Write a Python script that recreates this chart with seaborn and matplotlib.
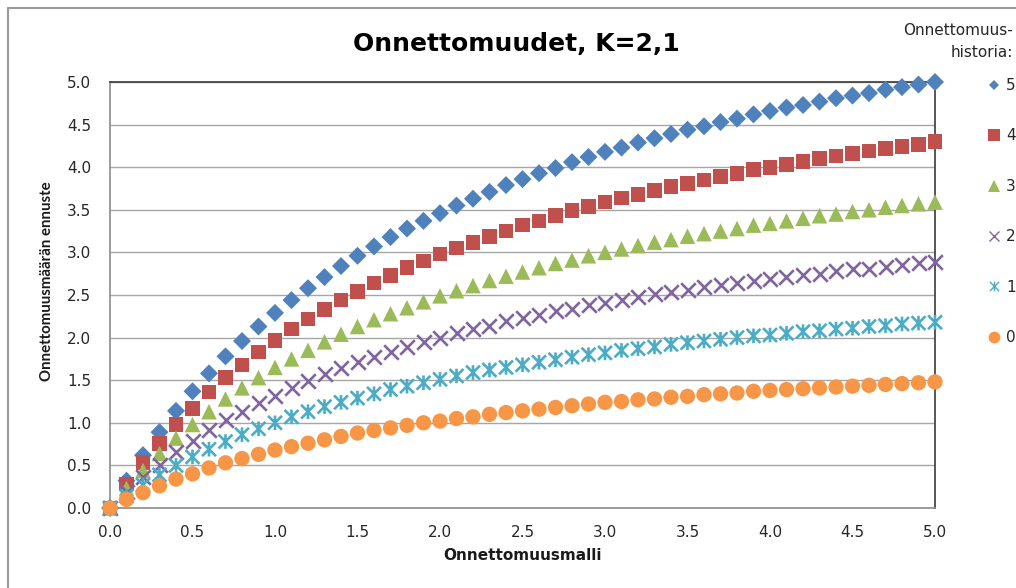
import matplotlib
matplotlib.use("Agg")
import matplotlib.pyplot as plt
from matplotlib.lines import Line2D
from matplotlib.path import Path
import seaborn as sns
import pandas as pd

# Model prediction on the x axis (Onnettomuusmalli)
model = [0.0, 0.1, 0.2, 0.3, 0.4, 0.5, 0.6, 0.7, 0.8, 0.9,
         1.0, 1.1, 1.2, 1.3, 1.4, 1.5, 1.6, 1.7, 1.8, 1.9,
         2.0, 2.1, 2.2, 2.3, 2.4, 2.5, 2.6, 2.7, 2.8, 2.9,
         3.0, 3.1, 3.2, 3.3, 3.4, 3.5, 3.6, 3.7, 3.8, 3.9,
         4.0, 4.1, 4.2, 4.3, 4.4, 4.5, 4.6, 4.7, 4.8, 4.9, 5.0]

# Forecast for each accident history (0 ... 5 accidents)
hist_5 = [0.00, 0.32, 0.62, 0.89, 1.14, 1.37, 1.58, 1.78, 1.96, 2.13,
          2.29, 2.44, 2.58, 2.71, 2.84, 2.96, 3.07, 3.18, 3.28, 3.37,
          3.46, 3.55, 3.63, 3.71, 3.79, 3.86, 3.93, 3.99, 4.06, 4.12,
          4.18, 4.23, 4.29, 4.34, 4.39, 4.44, 4.48, 4.53, 4.57, 4.62,
          4.66, 4.70, 4.73, 4.77, 4.81, 4.84, 4.87, 4.91, 4.94, 4.97, 5.00]
hist_4 = [0.00, 0.28, 0.53, 0.76, 0.98, 1.17, 1.36, 1.53, 1.68, 1.83,
          1.97, 2.10, 2.22, 2.33, 2.44, 2.54, 2.64, 2.73, 2.82, 2.90,
          2.98, 3.05, 3.12, 3.19, 3.25, 3.32, 3.37, 3.43, 3.49, 3.54,
          3.59, 3.64, 3.68, 3.73, 3.77, 3.81, 3.85, 3.89, 3.93, 3.97,
          4.00, 4.03, 4.07, 4.10, 4.13, 4.16, 4.19, 4.22, 4.24, 4.27, 4.30]
hist_3 = [0.00, 0.23, 0.44, 0.64, 0.82, 0.98, 1.13, 1.28, 1.41, 1.53,
          1.65, 1.75, 1.85, 1.95, 2.04, 2.13, 2.21, 2.28, 2.35, 2.42,
          2.49, 2.55, 2.61, 2.67, 2.72, 2.77, 2.82, 2.87, 2.91, 2.96,
          3.00, 3.04, 3.08, 3.12, 3.15, 3.19, 3.22, 3.25, 3.28, 3.32,
          3.34, 3.37, 3.40, 3.43, 3.45, 3.48, 3.50, 3.53, 3.55, 3.57, 3.59]
hist_2 = [0.00, 0.19, 0.36, 0.51, 0.66, 0.79, 0.91, 1.03, 1.13, 1.23,
          1.32, 1.41, 1.49, 1.57, 1.64, 1.71, 1.77, 1.83, 1.89, 1.95,
          2.00, 2.05, 2.10, 2.14, 2.19, 2.23, 2.27, 2.31, 2.34, 2.38,
          2.41, 2.44, 2.48, 2.51, 2.53, 2.56, 2.59, 2.62, 2.64, 2.67,
          2.69, 2.71, 2.73, 2.75, 2.78, 2.80, 2.81, 2.83, 2.85, 2.87, 2.89]
hist_1 = [0.00, 0.14, 0.27, 0.39, 0.50, 0.60, 0.69, 0.78, 0.86, 0.93,
          1.00, 1.07, 1.13, 1.19, 1.24, 1.29, 1.34, 1.39, 1.43, 1.47,
          1.51, 1.55, 1.59, 1.62, 1.65, 1.68, 1.71, 1.74, 1.77, 1.80,
          1.82, 1.85, 1.87, 1.89, 1.92, 1.94, 1.96, 1.98, 2.00, 2.02,
          2.03, 2.05, 2.07, 2.08, 2.10, 2.11, 2.13, 2.14, 2.16, 2.17, 2.18]
hist_0 = [0.00, 0.10, 0.18, 0.26, 0.34, 0.40, 0.47, 0.53, 0.58, 0.63,
          0.68, 0.72, 0.76, 0.80, 0.84, 0.88, 0.91, 0.94, 0.97, 1.00,
          1.02, 1.05, 1.07, 1.10, 1.12, 1.14, 1.16, 1.18, 1.20, 1.22,
          1.24, 1.25, 1.27, 1.28, 1.30, 1.31, 1.33, 1.34, 1.35, 1.37,
          1.38, 1.39, 1.40, 1.41, 1.42, 1.43, 1.44, 1.45, 1.46, 1.47, 1.48]

series_labels = ["5", "4", "3", "2", "1", "0"]
series_values = [hist_5, hist_4, hist_3, hist_2, hist_1, hist_0]

y_ticks = [0.0, 0.5, 1.0, 1.5, 2.0, 2.5, 3.0, 3.5, 4.0, 4.5, 5.0]
x_ticks = [0.0, 0.5, 1.0, 1.5, 2.0, 2.5, 3.0, 3.5, 4.0, 4.5, 5.0]

title = "Onnettomuudet, K=2,1"
x_label = "Onnettomuusmalli"
y_label = "Onnettomuusmäärän ennuste"
legend_title = ["Onnettomuus-", "historia:"]

# Long-form table for seaborn
frames = []
for lab, vals in zip(series_labels, series_values):
    frames.append(pd.DataFrame({"malli": model, "ennuste": vals, "historia": lab}))
df = pd.concat(frames, ignore_index=True)

sns.set_theme(style="white")
plt.rcParams["font.family"] = ["DejaVu Sans"]

# Star marker: an X with a vertical bar through it
star = Path([(-1, -1), (1, 1), (-1, 1), (1, -1), (0, -1.05), (0, 1.05)],
            [Path.MOVETO, Path.LINETO, Path.MOVETO, Path.LINETO,
             Path.MOVETO, Path.LINETO])

styles = {
    "5": dict(color="#4F81BD", marker="D", s=84, kind="filled", lw=0, leg_ms=5.2),
    "4": dict(color="#C0504D", marker="s", s=112, kind="filled", lw=0, leg_ms=8.0),
    "3": dict(color="#9BBB59", marker="^", s=125, kind="filled", lw=0, leg_ms=8.5),
    "2": dict(color="#8064A2", marker="x", s=110, kind="line", lw=1.9, leg_ms=7.0),
    "1": dict(color="#4BACC6", marker=star, s=110, kind="path", lw=1.9, leg_ms=7.0),
    "0": dict(color="#F79646", marker="o", s=122, kind="filled", lw=0, leg_ms=8.5),
}

fig = plt.figure(figsize=(10.16, 5.88), dpi=100)
ax = fig.add_axes([110 / 1016, 1 - 508 / 588, (935 - 110) / 1016, (508 - 82) / 588])

for lab in series_labels:
    st = styles[lab]
    sub = df[df["historia"] == lab]
    common = dict(data=sub, x="malli", y="ennuste", ax=ax, marker=st["marker"],
                  s=st["s"], clip_on=False, zorder=3, legend=False)
    if st["kind"] == "filled":
        sns.scatterplot(color=st["color"], edgecolor="none", linewidth=0, **common)
    elif st["kind"] == "line":
        sns.scatterplot(color=st["color"], linewidth=st["lw"], **common)
    else:
        sns.scatterplot(facecolor="none", edgecolor=st["color"],
                        linewidth=st["lw"], **common)

ax.set_xlim(0, 5)
ax.set_ylim(0, 5)
ax.set_xticks(x_ticks)
ax.set_yticks(y_ticks)
ax.set_xticklabels([f"{t:.1f}" for t in x_ticks])
ax.set_yticklabels([f"{t:.1f}" for t in y_ticks])
ax.tick_params(axis="both", which="major", direction="out", length=5.5, width=1,
               color="#8c8c8c", labelsize=11, labelcolor="#262626")
ax.tick_params(axis="y", pad=8)
ax.tick_params(axis="x", pad=7)

ax.yaxis.grid(True, color="#a6a6a6", linewidth=1)
ax.xaxis.grid(False)
ax.set_axisbelow(True)

for side in ("left", "bottom"):
    ax.spines[side].set_color("#8c8c8c")
    ax.spines[side].set_linewidth(1.2)
for side in ("top", "right"):
    ax.spines[side].set_color("#3a3a3a")
    ax.spines[side].set_linewidth(1.2)

ax.set_xlabel("")
ax.set_ylabel("")
fig.text(522 / 1016, 1 - 556 / 588, x_label, ha="center", va="center",
         fontsize=11, fontweight="bold", color="#1a1a1a")
fig.text(47 / 1016, 1 - 281 / 588, y_label, ha="center", va="center", rotation=90,
         fontsize=10.8, fontweight="bold", color="#1a1a1a", family=["Lato", "DejaVu Sans"])
fig.text(516 / 1016, 1 - 44 / 588, title, ha="center", va="center",
         fontsize=18, fontweight="bold", color="#000000")

# Legend title, right aligned at the edge
fig.text(1013 / 1016, 1 - 35 / 588, legend_title[0], ha="right", va="baseline",
         fontsize=11, color="#262626")
fig.text(1013 / 1016, 1 - 57 / 588, legend_title[1], ha="right", va="baseline",
         fontsize=11, color="#262626")

handles = []
for lab in series_labels:
    st = styles[lab]
    if st["kind"] == "filled":
        h = Line2D([], [], linestyle="none", marker=st["marker"], markersize=st["leg_ms"],
                   markerfacecolor=st["color"], markeredgewidth=0)
    else:
        h = Line2D([], [], linestyle="none", marker=st["marker"], markersize=st["leg_ms"],
                   markerfacecolor="none", markeredgecolor=st["color"], markeredgewidth=1.0)
    handles.append(h)

ax.legend(handles, series_labels, loc="upper left",
          bbox_to_anchor=(986 / 1016, 1 - 78 / 588), bbox_transform=fig.transFigure,
          frameon=False, borderpad=0, borderaxespad=0, handlelength=1.0,
          handletextpad=0.3, labelspacing=2.32, fontsize=11, labelcolor="#262626")

# Outer chart frame
fig.add_artist(Line2D([8 / 1016, 8 / 1016], [0, 1 - 8 / 588], transform=fig.transFigure,
                      color="#9a9a9a", linewidth=1.5))
fig.add_artist(Line2D([8 / 1016, 1], [1 - 8 / 588, 1 - 8 / 588], transform=fig.transFigure,
                      color="#9a9a9a", linewidth=1.5))

fig.savefig("out.png", dpi=100, facecolor="white")
